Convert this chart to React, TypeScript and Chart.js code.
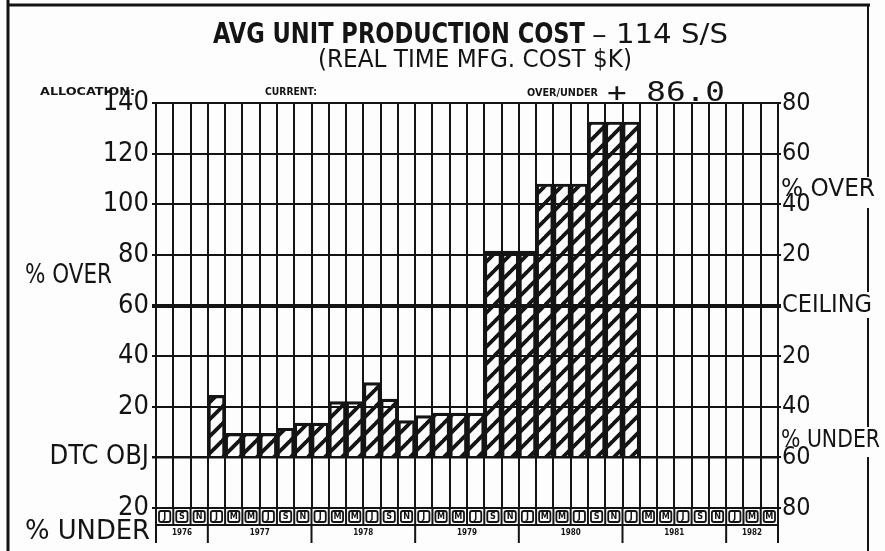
import React, { useEffect, useRef } from "react";
import { Chart, registerables } from "chart.js";

Chart.register(...registerables);

// ---- data ----
const MONTHS = [
  "J", "S", "N",
  "J", "M", "M", "J", "S", "N",
  "J", "M", "M", "J", "S", "N",
  "J", "M", "M", "J", "S", "N",
  "J", "M", "M", "J", "S", "N",
  "J", "M", "M", "J", "S", "N",
  "J", "M", "M",
];
const YEARS = ["1976", "1977", "1978", "1979", "1980", "1981", "1982"];
const YEAR_SPANS = [3, 6, 6, 6, 6, 6, 3];
const COST = [
  null, null, null,
  24.5, 9.5, 9.5, 9.5, 11.5, 13.5,
  13.5, 22, 22, 29.5, 23, 14.5,
  16.5, 17.5, 17.5, 17.5, 81.5, 81.5,
  81.5, 108, 108, 108, 132.5, 132.5,
  132.5, null, null, null, null, null,
  null, null, null,
];
const TICK_VALUES = [-20, 0, 20, 40, 60, 80, 100, 120, 140];
const LEFT_LABELS = ["20", "DTC OBJ", "20", "40", "60", "80", "100", "120", "140"];
const RIGHT_LABELS = ["80", "60", "40", "20", "CEILING", "20", "40", "60", "80"];
const CEILING = 60;
const TITLE_MAIN = "AVG UNIT PRODUCTION COST";
const TITLE_TAIL = "\u2013 114 S/S";
const SUBTITLE = "(REAL TIME MFG. COST $K)";
const OVER_UNDER = "+ 86.0";

const INK = "#141414";
const COND = '"DejaVu Sans Condensed", "DejaVu Sans", sans-serif';
const MONO = '"DejaVu Sans Mono", monospace';

function makeHatch(ctx: CanvasRenderingContext2D): CanvasPattern | string {
  const s = 17;
  const c = document.createElement("canvas");
  c.width = s;
  c.height = s;
  const g = c.getContext("2d");
  if (!g) return "rgba(0,0,0,0.3)";
  g.strokeStyle = INK;
  g.lineWidth = 3.8;
  g.lineCap = "square";
  for (const k of [0, s, 2 * s]) {
    g.beginPath();
    g.moveTo(k + 3, -3);
    g.lineTo(-3, k + 3);
    g.stroke();
  }
  return ctx.createPattern(c, "repeat") || INK;
}

function fitText(
  ctx: CanvasRenderingContext2D,
  text: string,
  left: number,
  baseline: number,
  width: number,
  font: string
) {
  ctx.save();
  ctx.font = font;
  ctx.textAlign = "left";
  ctx.textBaseline = "alphabetic";
  const w = ctx.measureText(text).width || 1;
  ctx.translate(left, baseline);
  ctx.scale(width / w, 1);
  ctx.fillText(text, 0, 0);
  ctx.restore();
}

const decorPlugin = {
  id: "decor",
  beforeDraw(chart: any) {
    const ctx = chart.ctx as CanvasRenderingContext2D;
    ctx.save();
    ctx.fillStyle = "#fdfdfd";
    ctx.fillRect(0, 0, chart.width, chart.height);
    ctx.restore();
  },
  afterDraw(chart: any) {
    const ctx = chart.ctx as CanvasRenderingContext2D;
    const xs = chart.scales.x;
    const area = chart.chartArea;
    ctx.save();
    ctx.fillStyle = INK;
    ctx.strokeStyle = INK;

    // frame
    ctx.lineWidth = 3;
    ctx.beginPath();
    ctx.moveTo(8, 0);
    ctx.lineTo(8, chart.height);
    ctx.moveTo(8, 5);
    ctx.lineTo(870, 5);
    ctx.stroke();
    ctx.lineWidth = 2;
    ctx.beginPath();
    for (const [a, b] of [[5, 177], [208, 292], [318, 427], [457, 551]]) {
      ctx.moveTo(868, a);
      ctx.lineTo(868, b);
    }
    ctx.stroke();

    // titles
    fitText(ctx, TITLE_MAIN, 213, 43, 372, `bold 28px ${COND}`);
    fitText(ctx, TITLE_TAIL, 592, 43, 136, `27px ${COND}`);
    fitText(ctx, SUBTITLE, 318, 67, 314, `25px ${COND}`);
    fitText(ctx, "ALLOCATION:", 40, 95, 95, `bold 11px ${COND}`);
    fitText(ctx, "CURRENT:", 265, 95, 52, `bold 11px ${COND}`);
    fitText(ctx, "OVER/UNDER", 527, 96, 71, `bold 11px ${COND}`);
    fitText(ctx, OVER_UNDER, 607, 101, 118, `26px ${MONO}`);

    // side labels
    fitText(ctx, "% OVER", 25, 283, 87, `26px ${COND}`);
    fitText(ctx, "% UNDER", 25, 539, 125, `26px ${COND}`);
    fitText(ctx, "% OVER", 781, 196, 94, `24px ${COND}`);
    fitText(ctx, "% UNDER", 781, 447, 99, `24px ${COND}`);

    // month row and year row
    const n = MONTHS.length;
    const colW = xs.getPixelForValue(1) - xs.getPixelForValue(0);
    const rowTop = area.bottom;
    const rowMid = rowTop + 17;
    const rowBot = rowMid + 18;
    ctx.lineWidth = 2;
    ctx.beginPath();
    ctx.moveTo(area.left, rowMid);
    ctx.lineTo(area.right, rowMid);
    for (let i = 0; i <= n; i++) {
      const x = xs.getPixelForValue(0) - colW / 2 + i * colW;
      ctx.moveTo(x, rowTop);
      ctx.lineTo(x, rowMid);
    }
    ctx.stroke();
    ctx.font = `bold 9px ${COND}`;
    ctx.textAlign = "center";
    ctx.textBaseline = "middle";
    for (let i = 0; i < n; i++) {
      const cx = xs.getPixelForValue(i);
      ctx.lineWidth = 1.8;
      ctx.beginPath();
      (ctx as any).roundRect
        ? (ctx as any).roundRect(cx - colW / 2 + 3, rowTop + 3, colW - 6, 11, 2)
        : ctx.rect(cx - colW / 2 + 3, rowTop + 3, colW - 6, 11);
      ctx.stroke();
      ctx.fillText(MONTHS[i], cx, rowTop + 9);
    }
    // year separators
    let start = 0;
    ctx.lineWidth = 2;
    ctx.font = `bold 8px ${COND}`;
    ctx.beginPath();
    const x0 = xs.getPixelForValue(0) - colW / 2;
    ctx.moveTo(x0, rowMid);
    ctx.lineTo(x0, rowBot);
    YEARS.forEach((yr, k) => {
      const a = xs.getPixelForValue(start) - colW / 2;
      const b = xs.getPixelForValue(start + YEAR_SPANS[k] - 1) + colW / 2;
      ctx.moveTo(b, rowMid);
      ctx.lineTo(b, rowBot);
      ctx.fillText(yr, (a + b) / 2, rowMid + 8);
      start += YEAR_SPANS[k];
    });
    ctx.stroke();
    ctx.restore();
  },
};

export default function App() {
  const ref = useRef<HTMLCanvasElement>(null);
  useEffect(() => {
    document.body.style.margin = "0";
    const canvas = ref.current;
    if (!canvas) return;
    const ctx = canvas.getContext("2d");
    if (!ctx) return;
    const hatch = makeHatch(ctx);
    const chart = new Chart(canvas, {
      type: "bar",
      data: {
        labels: MONTHS,
        datasets: [
          {
            label: "Cost",
            data: COST as any,
            backgroundColor: hatch as any,
            borderColor: INK,
            borderWidth: 2.5,
            categoryPercentage: 1,
            barPercentage: 1,
          },
        ],
      },
      options: {
        responsive: false,
        animation: false,
        devicePixelRatio: 1,
        layout: { padding: { top: 103, left: 0, right: 0, bottom: 0 } },
        plugins: {
          legend: { display: false },
          tooltip: { enabled: false },
          title: { display: false },
        },
        scales: {
          x: {
            type: "category",
            offset: true,
            grid: { offset: true, color: INK, lineWidth: 2, drawTicks: false },
            border: { display: true, color: INK, width: 2 },
            ticks: { display: false },
            afterFit: (s: any) => {
              s.height = 43;
            },
          },
          y: {
            position: "left",
            min: -20,
            max: 140,
            afterBuildTicks: (s: any) => {
              s.ticks = TICK_VALUES.map((v) => ({ value: v }));
            },
            ticks: {
              callback: (v: any) => LEFT_LABELS[TICK_VALUES.indexOf(Number(v))],
              font: { family: COND, size: 27 },
              color: INK,
              padding: 3,
            },
            grid: {
              color: INK,
              lineWidth: (c: any) =>
                c.tick && c.tick.value === CEILING ? 4 : c.tick && c.tick.value === 0 ? 2.5 : 2,
              tickLength: 4,
            },
            border: { color: INK, width: 2 },
            afterFit: (s: any) => {
              s.width = 156;
            },
          },
          y2: {
            position: "right",
            min: -20,
            max: 140,
            afterBuildTicks: (s: any) => {
              s.ticks = TICK_VALUES.map((v) => ({ value: v }));
            },
            ticks: {
              callback: (v: any) => RIGHT_LABELS[TICK_VALUES.indexOf(Number(v))],
              font: { family: COND, size: 25 },
              color: INK,
              padding: 1,
            },
            grid: {
              drawOnChartArea: false,
              color: INK,
              lineWidth: (c: any) => (c.tick && c.tick.value === CEILING ? 4 : 2),
              tickLength: 3,
            },
            border: { color: INK, width: 2 },
            afterFit: (s: any) => {
              s.width = 107;
            },
          },
        },
      },
      plugins: [decorPlugin],
    });
    return () => chart.destroy();
  }, []);
  return (
    <div style={{ width: 885, height: 551, position: "relative", background: "#fdfdfd" }}>
      <canvas ref={ref} width={885} height={551} style={{ display: "block" }} />
    </div>
  );
}
